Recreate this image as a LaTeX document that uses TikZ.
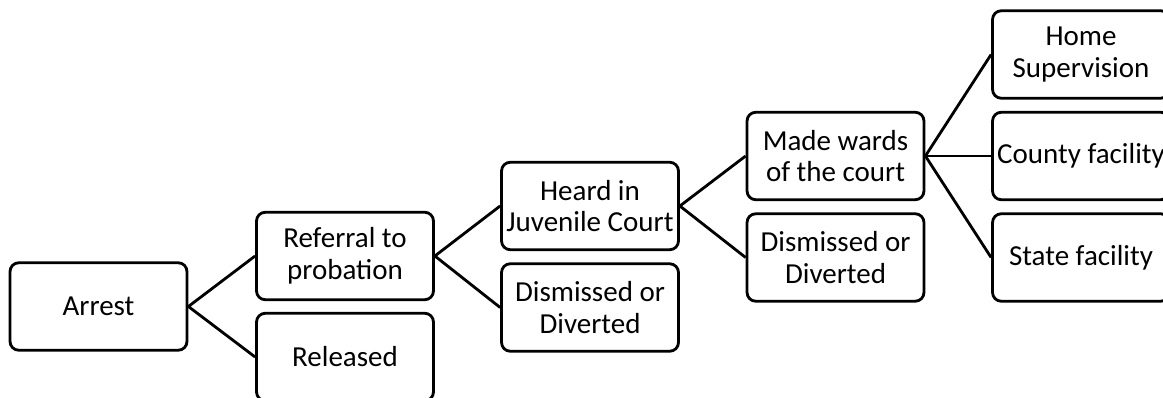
\documentclass[tikz,border=0pt]{standalone}
\usepackage{fontspec}
\setmainfont{Carlito}
\usepackage{tikz}

\begin{document}
\begin{tikzpicture}[x=0.02cm,y=-0.02cm,
    stage/.style={draw=black, line width=1.6pt, rounded corners=5pt, align=center,
      minimum width=3.54cm, minimum height=1.75cm, inner sep=0pt,
      font=\fontsize{16.5}{18}\selectfont},
    branch/.style={line width=1.6pt}]
    \useasboundingbox (0,0) rectangle (1163,398);

    % Drawing the stages
    \node[stage] (arrest)   at (98.5,306.5) {Arrest};
    \node[stage] (referral) at (345,256)    {Referral to\\probation};
    \node[stage] (released) at (345,357)    {Released};
    \node[stage] (heard)    at (590,206)    {Heard in\\Juvenile Court};
    \node[stage] (dismissA) at (590,307.5)  {Dismissed or\\Diverted};
    \node[stage] (wards)    at (835.5,156)  {Made wards\\of the court};
    \node[stage] (dismissB) at (835.5,257.5){Dismissed or\\Diverted};
    \node[stage] (home)     at (1081,54.5)  {Home\\Supervision};
    \node[stage] (county)   at (1081,156)   {County facility};
    \node[stage] (state)    at (1081,257.5) {State facility};

    % Drawing the branches
    \draw[branch] (referral.west) -- (arrest.east) -- (released.west);
    \draw[branch] (heard.west) -- (referral.east) -- (dismissA.west);
    \draw[branch] (wards.west) -- (heard.east) -- (dismissB.west);
    \draw[branch] (home.west) -- (wards.east) -- (state.west);
    \draw[branch] (wards.east) -- (county.west);
\end{tikzpicture}
\end{document}
